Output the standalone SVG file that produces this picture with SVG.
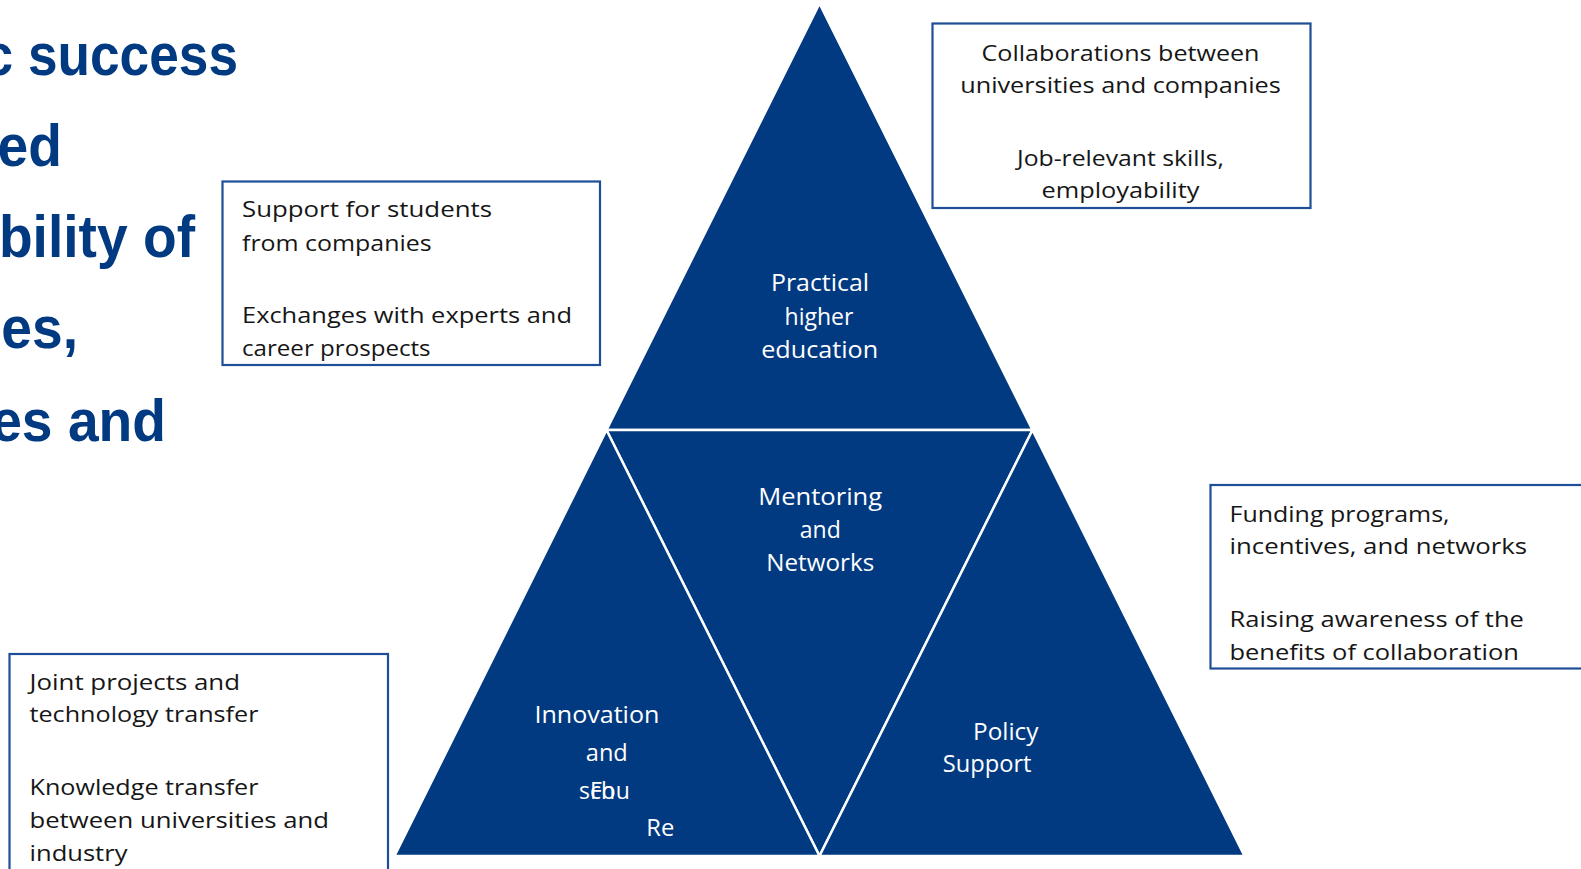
<svg xmlns="http://www.w3.org/2000/svg" width="1581" height="869" viewBox="0 0 1581 869">
<defs>
<style>
.title{font-family:"Liberation Sans",Arial,sans-serif;font-weight:bold;font-size:60px;fill:#013A81;text-anchor:end}
.tri{fill:#013A81;stroke:#FFFFFF;stroke-width:2.5}
.lbl{font-family:"Open Sans","Noto Sans",sans-serif;font-size:23px;fill:#FFFFFF}
.box{fill:#FFFFFF;stroke:#1F4E98;stroke-width:2.2}
.bt{font-family:"Open Sans","Noto Sans",sans-serif;font-size:22.5px;fill:#161616}
.mid{text-anchor:middle}
</style>
</defs>
<rect x="0" y="0" width="1581" height="869" fill="#FFFFFF"/>
<g id="title">
<text class="title" transform="scale(0.887,1)" x="268.3" y="75">c success</text>
<g transform="scale(0.92,1)">
<text class="title" x="67.4" y="166">ed</text>
<text class="title" x="212" y="257">bility of</text>
<text class="title" x="84.8" y="348">es,</text>
<text class="title" x="180.4" y="441">es and</text>
</g>
</g>
<g id="connectors"></g>
<g id="tri-top">
<polygon class="tri" points="819.5,3.5 606.5,430 1032.5,430"/>
<text class="lbl mid" x="820" y="291" textLength="98" lengthAdjust="spacingAndGlyphs">Practical</text>
<text class="lbl mid" x="819" y="324.5">higher</text>
<text class="lbl mid" x="819.7" y="357.5" textLength="117" lengthAdjust="spacingAndGlyphs">education</text>
</g>
<g id="tri-middle">
<polygon class="tri" points="606.5,430 1032.5,430 819.5,856"/>
<text class="lbl mid" x="820.2" y="505" textLength="124" lengthAdjust="spacingAndGlyphs">Mentoring</text>
<text class="lbl mid" x="820.3" y="538" textLength="41" lengthAdjust="spacingAndGlyphs">and</text>
<text class="lbl mid" x="820.2" y="571" textLength="108" lengthAdjust="spacingAndGlyphs">Networks</text>
</g>
<g id="tri-left">
<polygon class="tri" points="606.5,430 394.5,856 819.5,856"/>
<text class="lbl" x="534.4" y="722.5" textLength="125" lengthAdjust="spacingAndGlyphs">Innovation</text>
<text class="lbl" x="585.8" y="761" textLength="42" lengthAdjust="spacingAndGlyphs">and</text>
<text class="lbl" x="579" y="799">sch</text>
<text class="lbl" x="590" y="799">Fou</text>
<text class="lbl" x="646.3" y="836" textLength="28" lengthAdjust="spacingAndGlyphs">Re</text>
</g>
<g id="tri-right">
<polygon class="tri" points="1032.5,430 819.5,856 1244.5,856"/>
<text class="lbl" x="973" y="740" textLength="65.5" lengthAdjust="spacingAndGlyphs">Policy</text>
<text class="lbl" x="942.8" y="772" textLength="88.7" lengthAdjust="spacingAndGlyphs">Support</text>
</g>
<g id="box-top-right">
<rect class="box" x="932.5" y="23.5" width="378" height="184.5"/>
<text class="bt mid" x="1120.5" y="60.5" textLength="278" lengthAdjust="spacingAndGlyphs">Collaborations between</text>
<text class="bt mid" x="1120.5" y="92.5" textLength="320.6" lengthAdjust="spacingAndGlyphs">universities and companies</text>
<text class="bt mid" x="1120.5" y="166" textLength="207" lengthAdjust="spacingAndGlyphs">Job-relevant skills,</text>
<text class="bt mid" x="1120.5" y="198" textLength="158" lengthAdjust="spacingAndGlyphs">employability</text>
</g>
<g id="box-left">
<rect class="box" x="222.5" y="181.5" width="377.5" height="183.5"/>
<text class="bt" x="242" y="217" textLength="250" lengthAdjust="spacingAndGlyphs">Support  for  students</text>
<text class="bt" x="242" y="250.5" textLength="189.6" lengthAdjust="spacingAndGlyphs">from companies</text>
<text class="bt" x="242" y="323" textLength="330" lengthAdjust="spacingAndGlyphs">Exchanges with experts and</text>
<text class="bt" x="242" y="356" textLength="188.6" lengthAdjust="spacingAndGlyphs">career prospects</text>
</g>
<g id="box-bottom-left">
<rect class="box" x="9.5" y="654" width="378.5" height="230"/>
<text class="bt" x="29.5" y="690" textLength="210.5" lengthAdjust="spacingAndGlyphs">Joint projects and</text>
<text class="bt" x="29.5" y="722" textLength="229" lengthAdjust="spacingAndGlyphs">technology transfer</text>
<text class="bt" x="29.5" y="795" textLength="229" lengthAdjust="spacingAndGlyphs">Knowledge transfer</text>
<text class="bt" x="29.5" y="828" textLength="299.5" lengthAdjust="spacingAndGlyphs">between universities and</text>
<text class="bt" x="29.5" y="861" textLength="98" lengthAdjust="spacingAndGlyphs">industry</text>
</g>
<g id="box-right">
<rect class="box" x="1210.5" y="485" width="390" height="183.5"/>
<text class="bt" x="1229.5" y="521.5" textLength="220" lengthAdjust="spacingAndGlyphs">Funding programs,</text>
<text class="bt" x="1229.5" y="554" textLength="297.5" lengthAdjust="spacingAndGlyphs">incentives, and networks</text>
<text class="bt" x="1229.5" y="626.5" textLength="294.4" lengthAdjust="spacingAndGlyphs">Raising awareness of the</text>
<text class="bt" x="1229.5" y="660" textLength="289.4" lengthAdjust="spacingAndGlyphs">benefits of collaboration</text>
</g>
</svg>
